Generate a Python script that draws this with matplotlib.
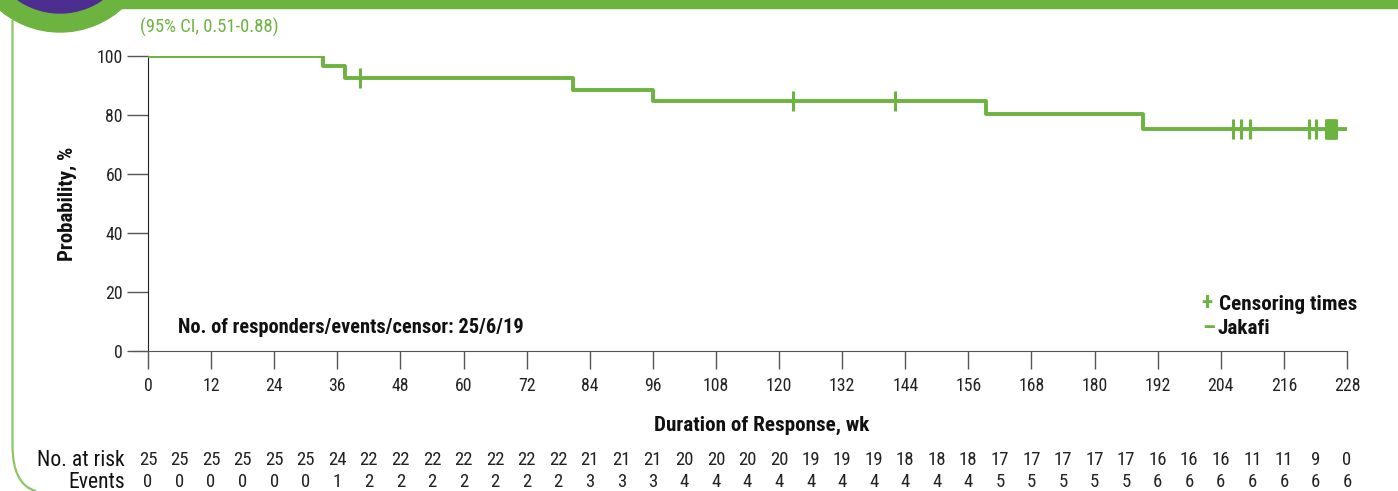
import numpy as np
import matplotlib
matplotlib.use("Agg")
import matplotlib.pyplot as plt
from matplotlib.patches import Circle, Rectangle, PathPatch
from matplotlib.path import Path
from matplotlib.transforms import blended_transform_factory, IdentityTransform

plt.rcParams['font.family'] = ['Roboto Condensed', 'Roboto', 'DejaVu Sans']

# Kaplan-Meier step data (weeks, %)
step_times = [0, 33.3, 37.5, 80.8, 96.0, 159.3, 189.2, 227.6]
step_surv = [100, 96.6, 92.6, 88.5, 84.7, 80.3, 75.3, 75.3]
censor_times = [40.3, 122.6, 142.0, 206.3, 207.8, 209.5, 220.8, 222.1,
                224.0, 224.2, 224.4, 224.6, 224.8, 225.0, 225.2, 225.4,
                225.6, 225.8, 226.0]

# risk table
risk_weeks = list(range(0, 229, 6))
at_risk = [25, 25, 25, 25, 25, 25, 24, 22, 22, 22, 22, 22, 22, 22, 21, 21, 21,
           20, 20, 20, 20, 19, 19, 19, 18, 18, 18, 17, 17, 17, 17, 17, 16, 16,
           16, 11, 11, 9, 0]
events = [0, 0, 0, 0, 0, 0, 1, 2, 2, 2, 2, 2, 2, 2, 3, 3, 3, 4, 4, 4, 4, 4, 4,
          4, 4, 4, 4, 5, 5, 5, 5, 5, 6, 6, 6, 6, 6, 6, 6]

GREEN = '#6db33f'
LIGHT_GREEN = '#8cc763'
PURPLE = '#4b2e90'
DARK = '#222222'

W, H = 1398, 491
fig = plt.figure(figsize=(W / 100, H / 100), dpi=100)


def fx(x):
    return x / W


def fy(y):
    return 1 - y / H


# decorations (pixel coordinates, y measured from the top)
px = IdentityTransform()
fig.patches.append(Rectangle((0, H - 8), W, 8, transform=px, color=GREEN, zorder=0))
verts = [(12.5, H - 20), (12.5, H - 445), (12.5, H - 485), (36, 0)]
codes = [Path.MOVETO, Path.LINETO, Path.CURVE3, Path.CURVE3]
fig.patches.append(PathPatch(Path(verts, codes), transform=px,
                             fill=False, edgecolor=LIGHT_GREEN, lw=1.6, zorder=0))
fig.patches.append(Circle((60, H + 61), 93, transform=px, color=GREEN, zorder=1))
fig.patches.append(Circle((60, H + 61), 74, transform=px, color=PURPLE, zorder=2))

ax = fig.add_axes([fx(148), fy(351), fx(1347) - fx(148), fy(56) - fy(351)])
ax.step(step_times, step_surv, where='post', color=GREEN, lw=2.8, zorder=3)
idx = np.searchsorted(step_times, censor_times, side='right') - 1
cens_y = np.array(step_surv)[idx]
ax.plot(censor_times, cens_y, ls='None', marker='|', ms=14, mew=2.2,
        color=GREEN, zorder=4)

ax.set_xlim(0, 228)
ax.set_ylim(0, 100)
ax.set_xticks(range(0, 229, 12))
ax.set_yticks(range(0, 101, 20))
ax.spines['top'].set_visible(False)
ax.spines['right'].set_visible(False)
ax.spines['left'].set_color(DARK)
ax.spines['bottom'].set_color('#555555')
ax.spines['bottom'].set_bounds(-2.9, 228)
ax.spines['bottom'].set_clip_on(False)
ax.tick_params(axis='x', length=13, width=1, color='#555555', pad=6,
               labelsize=12.8, labelcolor=DARK)
ax.tick_params(axis='y', length=15, width=1, color='#555555', pad=3,
               labelsize=12.8, labelcolor=DARK)
ax.set_xlabel('Duration of Response, wk', fontsize=15.2, fontweight='bold',
              labelpad=15, color='#111111')
ax.xaxis.label.set_x(0.512)
ax.set_ylabel('Probability, %', fontsize=15, fontweight='bold', labelpad=14,
              color='#111111')

ax.text(5.7, 8, 'No. of responders/events/censor: 25/6/19', fontsize=14.7,
        fontweight='bold', va='center', ha='left', color='#111111')

# legend
fig.text(fx(1207), fy(304), '+', color=GREEN, fontsize=17, fontweight='bold',
         ha='center', va='center')
fig.text(fx(1219), fy(304), 'Censoring times', fontsize=15.2, fontweight='bold',
         ha='left', va='center', color='#111111')
fig.text(fx(1209), fy(328), '\u2013', color=GREEN, fontsize=17, fontweight='bold',
         ha='center', va='center')
fig.text(fx(1218), fy(328), 'Jakafi', fontsize=15.2, fontweight='bold',
         ha='left', va='center', color='#111111')

fig.text(fx(140), fy(27), '(95% CI, 0.51-0.88)', color=GREEN, fontsize=13.4,
         ha='left', va='center')

# risk table
tr = blended_transform_factory(ax.transData, fig.transFigure)
for wk, n, e in zip(risk_weeks, at_risk, events):
    ax.text(wk, fy(460), str(n), transform=tr, ha='center', va='center',
            fontsize=13.5, color=DARK, clip_on=False)
    ax.text(wk, fy(482), str(e), transform=tr, ha='center', va='center',
            fontsize=13.5, color=DARK, clip_on=False)
fig.text(fx(125), fy(460), 'No. at risk', ha='right', va='center', fontsize=15.6,
         color='#111111')
fig.text(fx(125), fy(482), 'Events', ha='right', va='center', fontsize=15.6,
         color='#111111')

fig.savefig('out.png', dpi=100)
